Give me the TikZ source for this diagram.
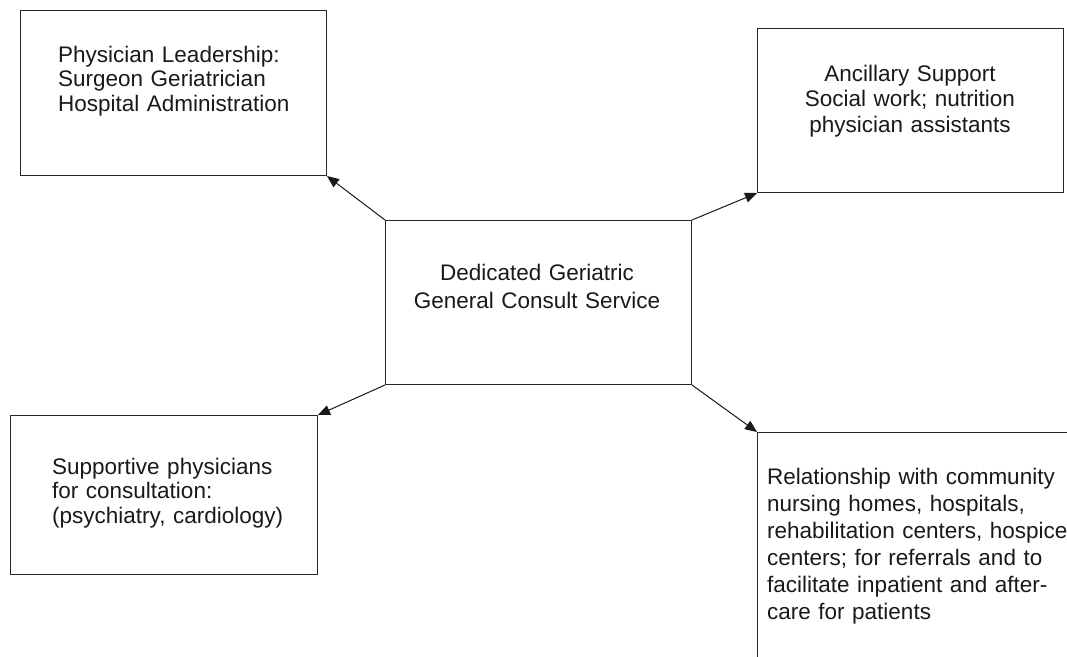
\documentclass[tikz,border=0pt]{standalone}
\usepackage{fontspec}
\setmainfont{Liberation Sans}
\usetikzlibrary{arrows.meta,positioning}

\begin{document}
\begin{tikzpicture}[
    x=1pt, y=-1pt,
    box/.style={rectangle, draw=black!85, line width=1pt, inner sep=0pt, anchor=north west},
    txt/.style={inner sep=0pt, text=black!90, text width=310pt, align=left, anchor=base west,
                font=\fontsize{22.5}{#1}\selectfont},
    ctxt/.style={txt=#1, align=center, anchor=base},
    dep/.style={black!90, line width=1pt, -{Triangle[length=12pt,width=10pt]}}
  ]

  \clip (0,0) rectangle (1067,656);

  \node (lead) [box, minimum width=306pt, minimum height=165pt] at (20,10)  {};
  \node (anc)  [box, minimum width=306pt, minimum height=164pt] at (757,28) {};
  \node (ctr)  [box, minimum width=306pt, minimum height=164pt] at (385,220) {};
  \node (sup)  [box, minimum width=307pt, minimum height=159pt] at (10,415) {};
  \node (rel)  [box, minimum width=340pt, minimum height=260pt] at (757,432) {};

  \node (leadtxt) [txt=24.7]  at (58,62)  {Physician Leadership:\\
                                           Surgeon Geriatrician\\
                                           Hospital Administration};

  \node (anctxt)  [ctxt=25.5] at (910,81) {Ancillary Support\\
                                           Social work; nutrition\\
                                           physician assistants};

  \node (ctrtxt)  [ctxt=28.7] at (537,280) {Dedicated Geriatric\\
                                            General Consult Service};

  \node (suptxt)  [txt=24.5]  at (52,474) {Supportive physicians\\
                                           for consultation:\\
                                           (psychiatry, cardiology)};

  \node (reltxt)  [txt=27]    at (767,484) {Relationship with community\\
                                            nursing homes, hospitals,\\
                                            rehabilitation centers, hospice\\
                                            centers; for referrals and to\\
                                            facilitate inpatient and after-\\
                                            care for patients};

  \draw[dep] (ctr.north west) -- (lead.south east);
  \draw[dep] (ctr.north east) -- (anc.south west);
  \draw[dep] (ctr.south west) -- (sup.north east);
  \draw[dep] (ctr.south east) -- (rel.north west);
\end{tikzpicture}
\end{document}
